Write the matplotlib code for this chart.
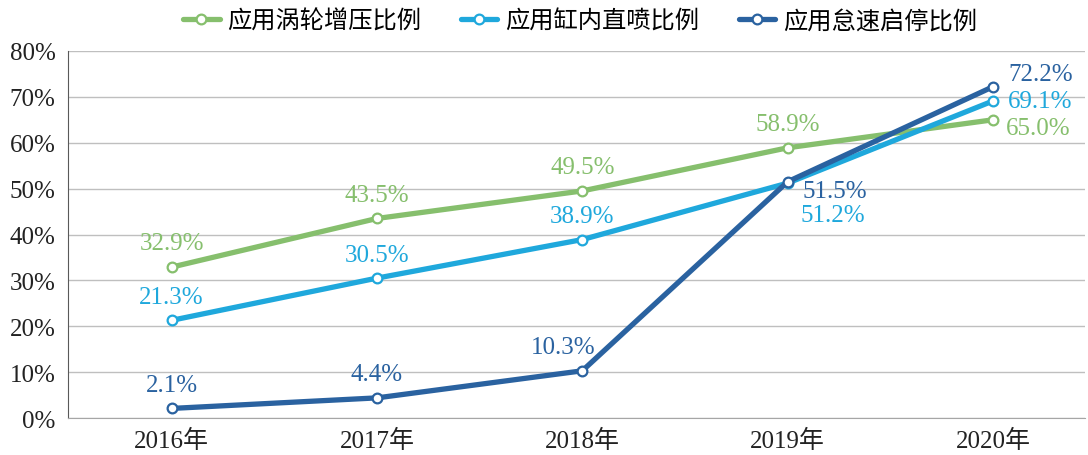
import matplotlib
matplotlib.use("Agg")
import matplotlib.pyplot as plt
from matplotlib.ticker import FuncFormatter

plt.rcParams['font.family'] = ['Liberation Serif', 'Noto Sans CJK SC']

years = ['2016年', '2017年', '2018年', '2019年', '2020年']
turbo = [32.9, 43.5, 49.5, 58.9, 65.0]
direct_inj = [21.3, 30.5, 38.9, 51.2, 69.1]
start_stop = [2.1, 4.4, 10.3, 51.5, 72.2]

names = ['应用涡轮增压比例', '应用缸内直喷比例', '应用怠速启停比例']
colors = ['#86bf6d', '#1fa8dc', '#2a62a0']

# label offsets in points (dx, dy, ha) per point, va is center
above = (0, 17, 'center')
offsets = [
    [above] * 4 + [(9, -6, 'left')],
    [above] * 3 + [(9, -23, 'left'), (11, 0, 'left')],
    [above] * 2 + [(-14, 17, 'center'), (11, -7, 'left'), (11, 9, 'left')],
]

fig = plt.figure(figsize=(10.88, 4.56), dpi=100)
ax = fig.add_axes([0.0625, 0.081, 0.935, 0.805])

x = range(len(years))
for vals, name, c, offs in zip([turbo, direct_inj, start_stop], names, colors, offsets):
    ax.plot(x, vals, color=c, lw=3.8, marker='o', markersize=7,
            markerfacecolor='white', markeredgecolor=c, markeredgewidth=1.6,
            label=name, solid_capstyle='round')
    for xi, v, (dx, dy, ha) in zip(x, vals, offs):
        ax.annotate(f'{v:.1f}%', (xi, v), xytext=(dx, dy), textcoords='offset points',
                    ha=ha, va='center', color=c, fontsize=18)

ax.set_ylim(0, 80)
ax.set_xlim(-0.505, 4.45)
ax.set_yticks(range(0, 81, 10))
ax.yaxis.set_major_formatter(FuncFormatter(lambda v, p: f'{int(v)}%'))
ax.set_xticks(list(x))
ax.set_xticklabels(years)
ax.tick_params(axis='both', labelsize=18, colors='#222222', length=0, pad=8)
ax.tick_params(axis='y', pad=9)
ax.grid(axis='y', color='#bfbfbf', lw=1)
ax.set_axisbelow(True)
for s in ['top', 'right']:
    ax.spines[s].set_visible(False)
ax.spines['left'].set_color('#595959')
ax.spines['bottom'].set_color('#a6a6a6')

fig.legend(loc='upper center', bbox_to_anchor=(0.533, 1.025), ncol=3, frameon=False,
           fontsize=17.5, handlelength=1.5, columnspacing=1.65, handletextpad=0.3)

fig.savefig('out.png', dpi=100)
